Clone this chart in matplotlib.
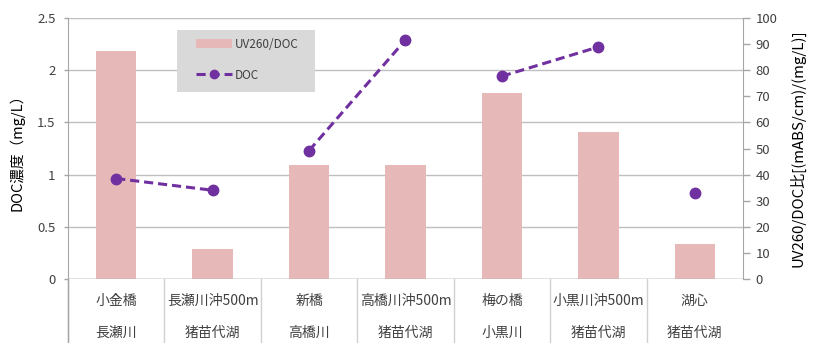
import matplotlib.pyplot as plt
from matplotlib.lines import Line2D
from matplotlib.patches import Patch, Rectangle

plt.rcParams["font.family"] = ["Noto Sans CJK JP", "DejaVu Sans"]

# sampling points and their water body
sites = ["小金橋", "長瀬川沖500m", "新橋", "高橋川沖500m", "梅の橋", "小黒川沖500m", "湖心"]
waters = ["長瀬川", "猪苗代湖", "高橋川", "猪苗代湖", "小黒川", "猪苗代湖", "猪苗代湖"]

# bars, read on the left axis
uv_doc = [2.18, 0.29, 1.09, 1.09, 1.78, 1.41, 0.34]
# points, read on the right axis
doc = [38.5, 34.0, 49.2, 91.6, 77.7, 88.9, 33.0]
# river / lake pairs joined by a line
doc_groups = [0, 0, 1, 1, 2, 2, 3]

left_ticks = [0, 0.5, 1, 1.5, 2, 2.5]
right_ticks = list(range(0, 101, 10))

BAR_C = "#e6b9b8"
LINE_C = "#7030a0"
GRID_C = "#bfbfbf"
AXIS_C = "#a6a6a6"
TEXT_C = "#404040"
DASH = (0, (3, 1.6))

fig = plt.figure(figsize=(8.17, 3.43), dpi=100)
ax = fig.add_axes([0.0832, 0.1866, 0.8262, 0.7609])
ax2 = ax.twinx()

x = list(range(len(sites)))
ax.bar(x, uv_doc, width=0.42, color=BAR_C, zorder=2)
ax.set_xlim(-0.5, len(sites) - 0.5)
ax.set_ylim(0, 2.5)
ax.set_yticks(left_ticks)
ax.set_yticklabels([f"{v:g}" for v in left_ticks])
ax.grid(axis="y", color=GRID_C, lw=1.0, zorder=0)
ax.set_axisbelow(True)
ax.set_xticks([])

for g in sorted(set(doc_groups)):
    xs = [i for i in x if doc_groups[i] == g]
    ys = [doc[i] for i in xs]
    ax2.plot(xs, ys, color=LINE_C, lw=2.2, ls=DASH, marker="o",
             ms=7.5, zorder=4)
ax2.set_ylim(0, 100)
ax2.set_yticks(right_ticks)

for a in (ax, ax2):
    for s in ("top", "bottom"):
        a.spines[s].set_visible(False)
    a.spines["left"].set_color(AXIS_C)
    a.spines["right"].set_color(AXIS_C)
    a.tick_params(axis="y", labelsize=9.5, width=1, color=AXIS_C,
                  labelcolor=TEXT_C)
ax.spines["right"].set_visible(False)
ax2.spines["left"].set_visible(False)
ax.tick_params(axis="y", length=3, pad=6)
ax2.tick_params(axis="y", length=5, pad=4)

# baseline and category separators below the axis
ax.axhline(0, color=AXIS_C, lw=1.0, zorder=3)
trans = ax.get_xaxis_transform()
for b in [i - 0.5 for i in range(len(sites))]:
    ax.plot([b, b], [0, -0.245], transform=trans, color="#d0d0d0", lw=1.0,
            clip_on=False)
ax.plot([-0.5, -0.5], [0, -0.245], transform=trans, color=AXIS_C, lw=1.0,
        clip_on=False)

for i, (s, w) in enumerate(zip(sites, waters)):
    ax.text(i, -0.084, s, transform=trans, ha="center", va="center",
            fontsize=10, color=TEXT_C)
    ax.text(i, -0.207, w, transform=trans, ha="center", va="center",
            fontsize=10, color=TEXT_C)

ax.set_ylabel("DOC濃度（mg/L）", fontsize=10.5, color="black", labelpad=9)
ax2.set_ylabel("UV260/DOC比[(mABS/cm)/(mg/L)]", fontsize=10.8, color="black",
               labelpad=9)

# legend box
ax2.add_patch(Rectangle((0.1615, 0.716), 0.2045, 0.238, transform=ax.transAxes,
                        facecolor="#d9d9d9", edgecolor="none", zorder=5,
                        clip_on=False))
handles = [
    Patch(facecolor=BAR_C, edgecolor="none"),
    Line2D([], [], color=LINE_C, lw=2.2, ls=DASH, marker="o", ms=6),
]
leg = ax2.legend(handles, ["UV260/DOC", "DOC"], loc="upper left",
                 bbox_to_anchor=(0.189, 0.925), bbox_transform=ax.transAxes,
                 fontsize=8.5, frameon=False, handlelength=3.05,
                 handleheight=0.85, labelspacing=1.55, borderpad=0,
                 borderaxespad=0, handletextpad=0.25)
for t in leg.get_texts():
    t.set_color(TEXT_C)
leg.set_zorder(6)

fig.savefig("out.png", dpi=100, facecolor="white")
